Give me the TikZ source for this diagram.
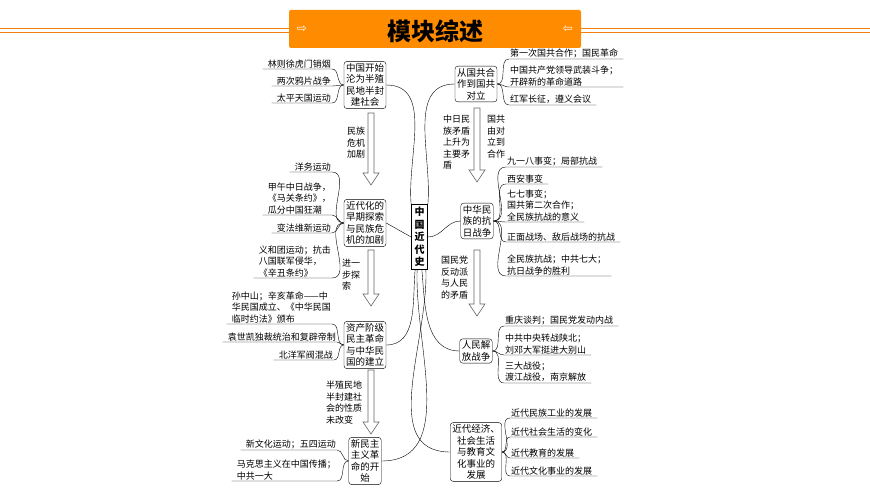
\documentclass[tikz,border=0pt]{standalone}
\usepackage{fontspec}
\setmainfont{Noto Sans CJK SC}
\newfontfamily\symfont{DejaVu Sans}
\newcommand\holarrow[3]{\draw[hollow] ({#1-3},#2) -- ({#1-3},{#3-12}) -- ({#1-8},{#3-12}) -- (#1,#3) -- ({#1+8},{#3-12}) -- ({#1+3},{#3-12}) -- ({#1+3},#2) -- cycle;}
\newcommand\leafL[2]{\draw[twig] ([xshift=-4pt]#2.south west) -- (#2.south east) to[out=0,in=180] (#1.west);}
\newcommand\leafR[2]{\draw[twig] ([xshift=4pt]#2.south east) -- (#2.south west) to[out=180,in=0] (#1.east);}
\begin{document}
\begin{tikzpicture}[x=1pt,y=-1pt,
  main/.style = {draw,rounded corners=3pt,align=center,inner sep=2pt,font=\fontsize{9.5}{11.5}\selectfont},
  leaf/.style = {align=left,inner sep=1pt,anchor=south west,font=\fontsize{9}{11.5}\selectfont},
  leafl/.style = {leaf,anchor=south east},
  note/.style = {align=left,inner sep=0pt,font=\fontsize{9}{11.5}\selectfont},
  twig/.style = {thin},
  hollow/.style = {draw=black!60,fill=white,line width=0.6pt}]
\useasboundingbox (0,0) rectangle (870,489);
%Header
\draw[orange!80!brown,line width=0.7pt] (0,28) -- (289,28) (0,32) -- (289,32) (581,28) -- (870,28) (581,32) -- (870,32);
\node[fill=orange!90!yellow,rounded corners=2pt,minimum width=292pt,minimum height=38pt] (head) at (435,29) {};
\node[font=\fontsize{24}{24}\selectfont\bfseries] (title) at (435,31) {模块综述};
\node[text=white,font=\symfont\fontsize{12}{12}\selectfont] (la) at (302,29) {⇨};
\node[text=white,font=\symfont\fontsize{12}{12}\selectfont] (ra) at (568,29) {⇦};
%Centre
\node[draw,thick,align=center,inner sep=3pt,font=\fontsize{10}{12.5}\selectfont\bfseries] (cen) at (419.5,237) {中\\国\\近\\代\\史};
%Left boxes
\node[main] (A) at (365,85) {中国开始\\沦为半殖\\民地半封\\建社会};
\node[main] (B) at (365,223) {近代化的\\早期探索\\与民族危\\机的加剧};
\node[main] (C) at (365,345) {资产阶级\\民主革命\\与中华民\\国的建立};
\node[main] (D) at (365,461) {新民主\\主义革\\命的开\\始};
%Right boxes
\node[main] (E) at (476,84) {从国共合\\作到国共\\对立};
\node[main] (F) at (477,221) {中华民\\族的抗\\日战争};
\node[main] (G) at (476,351) {人民解\\放战争};
\node[main] (H) at (476,452) {近代经济、\\社会生活\\与教育文\\化事业的\\发展};
%Centre links
\draw (A.east) to[out=0,in=95] (cen.north west);
\draw (B.east) -- (cen.west);
\draw (C.east) to[out=0,in=-95] ([xshift=4pt]cen.south west);
\draw (D.east) to[out=0,in=-92] ([xshift=6pt]cen.south west);
\draw (E.west) to[out=180,in=85] (cen.north east);
\draw (F.west) to[out=180,in=0] (cen.east);
\draw (G.west) to[out=180,in=-85] ([xshift=-6pt]cen.south east);
\draw (H.west) to[out=180,in=-88] ([xshift=-2pt]cen.south east);
%Hollow arrows
\holarrow{371}{113}{185}
\holarrow{371}{250}{306}
\holarrow{371}{370}{434}
\holarrow{477}{108}{182}
\holarrow{477}{250}{316}
\node[note,anchor=north west] (n1) at (347,127) {民族\\危机\\加剧};
\node[note,anchor=north west] (n2) at (342,259) {进一\\步探\\索};
\node[note,anchor=north west] (n3) at (326,381) {半殖民地\\半封建社\\会的性质\\未改变};
\node[note,anchor=north west] (n4) at (443,115) {中日民\\族矛盾\\上升为\\主要矛\\盾};
\node[note,anchor=north west] (n5) at (487,115) {国共\\由对\\立到\\合作};
\node[note,anchor=north west] (n6) at (441,256) {国民党\\反动派\\与人民\\的矛盾};
%Leaves of A
\node[leafl] (a1) at (332,69) {林则徐虎门销烟};
\node[leafl] (a2) at (332,86) {两次鸦片战争};
\node[leafl] (a3) at (332,103) {太平天国运动};
\foreach \l in {a1,a2,a3} {\leafL{A}{\l}}
%Leaves of B
\node[leafl] (b1) at (332,172) {洋务运动};
\node[leafl] (b2) at (332,215) {甲午中日战争，\\《马关条约》，\\瓜分中国狂潮};
\node[leafl] (b3) at (332,233) {变法维新运动};
\node[leafl] (b4) at (332,278) {义和团运动；抗击\\八国联军侵华，\\《辛丑条约》};
\foreach \l in {b1,b2,b3,b4} {\leafL{B}{\l}}
%Leaves of C
\node[leafl] (c1) at (332,324) {孙中山；辛亥革命——中\\华民国成立、《中华民国\\临时约法》颁布};
\node[leafl] (c2) at (337,342) {袁世凯独裁统治和复辟帝制};
\node[leafl] (c3) at (334,360) {北洋军阀混战};
\foreach \l in {c1,c2,c3} {\leafL{C}{\l}}
%Leaves of D
\node[leafl] (d1) at (337,450) {新文化运动；五四运动};
\node[leafl] (d2) at (337,481) {马克思主义在中国传播；\\中共一大};
\foreach \l in {d1,d2} {\leafL{D}{\l}}
%Leaves of E
\node[leaf] (e1) at (509,59) {第一次国共合作；国民革命};
\node[leaf] (e2) at (509,87) {中国共产党领导武装斗争；\\开辟新的革命道路};
\node[leaf] (e3) at (509,105) {红军长征，遵义会议};
\foreach \l in {e1,e2,e3} {\leafR{E}{\l}}
%Leaves of F
\node[leaf] (f1) at (506,167) {九一八事变；局部抗战};
\node[leaf] (f2) at (506,184) {西安事变};
\node[leaf] (f3) at (506,222) {七七事变；\\国共第二次合作；\\全民族抗战的意义};
\node[leaf] (f4) at (506,242) {正面战场、敌后战场的抗战};
\node[leaf] (f5) at (506,276) {全民族抗战；中共七大；\\抗日战争的胜利};
\foreach \l in {f1,f2,f3,f4,f5} {\leafR{F}{\l}}
%Leaves of G
\node[leaf] (g1) at (504,326) {重庆谈判；国民党发动内战};
\node[leaf] (g2) at (504,355) {中共中央转战陕北；\\刘邓大军挺进大别山};
\node[leaf] (g3) at (504,383) {三大战役；\\渡江战役，南京解放};
\foreach \l in {g1,g2,g3} {\leafR{G}{\l}}
%Leaves of H
\node[leaf] (h1) at (510,418) {近代民族工业的发展};
\node[leaf] (h2) at (510,437) {近代社会生活的变化};
\node[leaf] (h3) at (510,458) {近代教育的发展};
\node[leaf] (h4) at (510,476) {近代文化事业的发展};
\foreach \l in {h1,h2,h3,h4} {\leafR{H}{\l}}
\end{tikzpicture}
\end{document}
